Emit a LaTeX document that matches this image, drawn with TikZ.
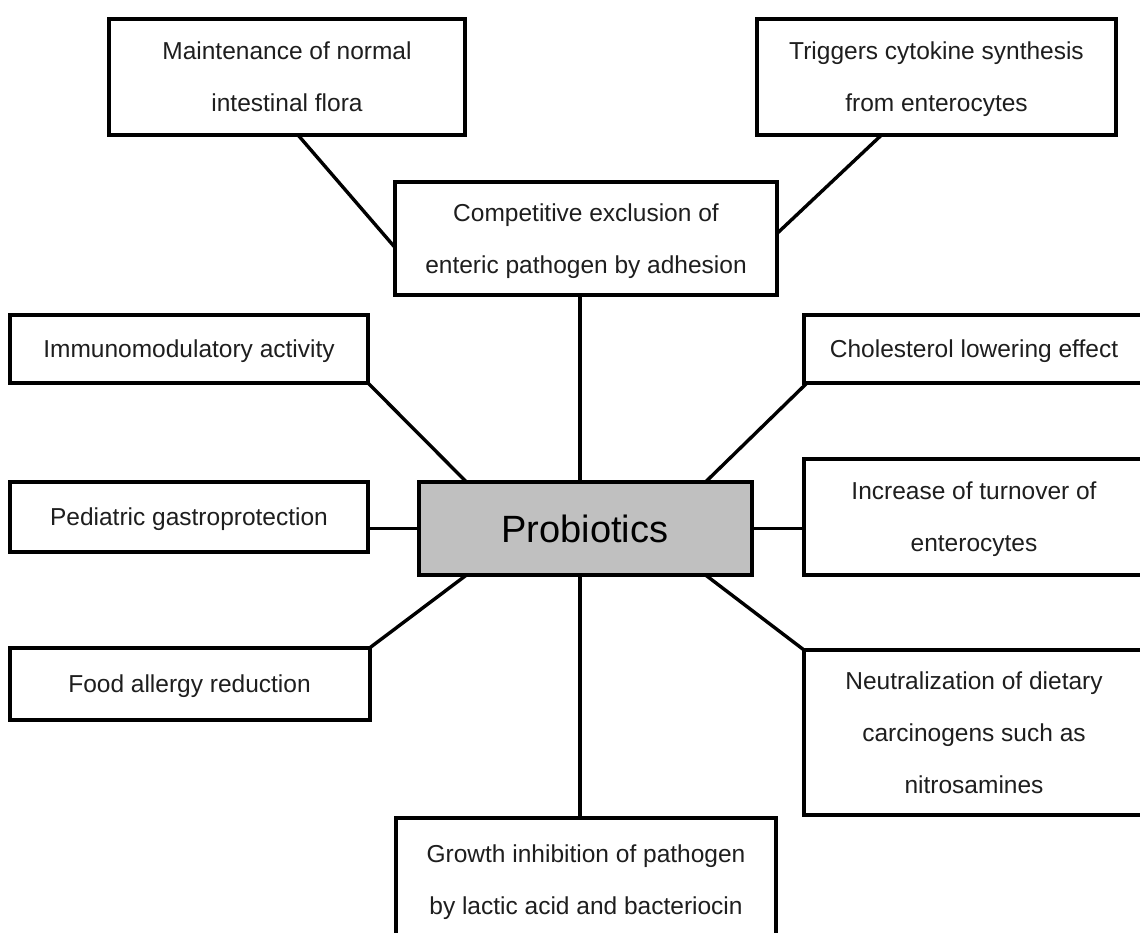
\documentclass[tikz,border=0pt]{standalone}
\usepackage{fontspec}
\setmainfont{Liberation Sans}
\usetikzlibrary{calc}
\definecolor{hubgray}{HTML}{C0C0C0}
\definecolor{inkgray}{HTML}{1E1E1E}
\tikzset{
  box/.style={draw=black, line width=4pt, fill=white, text=inkgray,
    align=center, inner sep=0pt, outer sep=0pt, text depth=0pt,
    font=\fontsize{24.5}{52}\selectfont},
  hub/.style={box, fill=hubgray, text=black, font=\fontsize{38}{44}\selectfont},
  link/.style={draw=black, line width=3.4pt}
}
\begin{document}
\begin{tikzpicture}[x=1pt, y=-1pt]
  % page area; boxes running past the right and lower edges are cut off
  \path[use as bounding box, clip] (0,0) rectangle (1140,933);
  \fill[white] (0,0) rectangle (1140,933);

  % outer boxes
  \node[box, minimum width=356pt, minimum height=116pt] (maint) at (287,77)
    {Maintenance of normal\\intestinal flora};
  \node[box, minimum width=359pt, minimum height=116pt] (trig) at (936.5,77)
    {Triggers cytokine synthesis\\from enterocytes};
  \node[box, minimum width=382pt, minimum height=113pt] (comp) at (586,238.5)
    {Competitive exclusion of\\enteric pathogen by adhesion};
  \node[box, minimum width=358pt, minimum height=68pt] (immuno) at (189,349)
    {Immunomodulatory activity};
  \node[box, minimum width=358pt, minimum height=70pt] (pedi) at (189,516.5)
    {Pediatric gastroprotection};
  \node[box, minimum width=360pt, minimum height=72pt] (food) at (189.5,684)
    {Food allergy reduction};
  \node[box, minimum width=340pt, minimum height=68pt] (chol) at (974,349)
    {Cholesterol lowering effect};
  \node[box, minimum width=340pt, minimum height=116pt] (incr) at (974,517)
    {Increase of turnover of\\enterocytes};
  \node[box, minimum width=340pt, minimum height=165pt] (neut) at (974,732.5)
    {Neutralization of dietary\\carcinogens such as\\nitrosamines};
  \node[box, minimum width=380pt, minimum height=124pt] (growth) at (586,880)
    {Growth inhibition of pathogen\\by lactic acid and bacteriocin};

  % central box
  \node[hub, minimum width=333pt, minimum height=93pt] (prob) at (585,528.5)
    {Probiotics};

  % connectors
  \draw[link] ($(maint.south)+(11,0)$) -- ($(comp.west)+(0,9)$);
  \draw[link] ($(trig.south)+(-55,0)$) -- ($(comp.east)+(0,-5)$);
  \draw[link] ($(comp.south)+(-6,0)$) -- ($(prob.north)+(-5,0)$);
  \draw[link] (immuno.south east) -- ($(prob.north west)+(48,0)$);
  \draw[link] (pedi.east |- prob.west) -- (prob.west);
  \draw[link] ($(prob.south west)+(48,0)$) -- (food.north east);
  \draw[link] ($(chol.south west)+(3,0)$) -- ($(prob.north east)+(-46,0)$);
  \draw[link] (prob.east) -- (prob.east -| incr.west);
  \draw[link] ($(prob.south east)+(-46,0)$) -- (neut.north west);
  \draw[link] ($(prob.south)+(-5,0)$) -- ($(growth.north)+(-6,0)$);
\end{tikzpicture}
\end{document}
